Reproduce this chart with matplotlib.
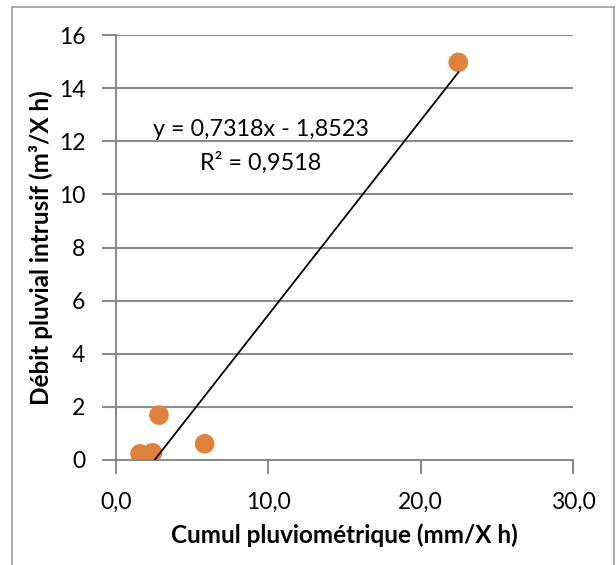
import numpy as np
import matplotlib.pyplot as plt
from matplotlib.patches import Rectangle

# --- DATA ---
cumul = [1.58, 2.39, 2.82, 5.82, 22.47]      # mm / X h
debit = [0.23, 0.27, 1.69, 0.61, 14.97]      # m3 / X h
slope = 0.7318
intercept = -1.8523
r2 = 0.9518
x_ticks = [0, 10, 20, 30]
x_tick_labels = ["0,0", "10,0", "20,0", "30,0"]
y_ticks = list(range(0, 17, 2))

plt.rcParams['font.family'] = ['Lato', 'DejaVu Sans']

W, H = 616, 565
fig = plt.figure(figsize=(W / 100, H / 100), dpi=100)
ax = fig.add_axes([116 / W, 1 - 460 / H, (573 - 116) / W, (460 - 35) / H])

grid_col = '#8c8c8c'

# trendline (clipped at y=0 like Excel does)
xl = np.array([min(cumul), max(cumul)])
ax.plot(xl, slope * xl + intercept, color='black', linewidth=1.3, zorder=3)
ax.scatter(cumul, debit, s=200, color='#df833c', edgecolors='none', zorder=2)

ax.set_xlim(0, 30)
ax.set_ylim(0, 16)
ax.set_xticks(x_ticks)
ax.set_xticklabels(x_tick_labels)
ax.set_yticks(y_ticks)
ax.grid(True, axis='y', color=grid_col, linewidth=1.5)
ax.set_axisbelow(True)
for side in ['top', 'right']:
    ax.spines[side].set_visible(False)
for side in ['left', 'bottom']:
    ax.spines[side].set_color(grid_col)
    ax.spines[side].set_linewidth(1.5)
ax.tick_params(axis='both', colors=grid_col, labelcolor='black', labelsize=16.5,
               length=10, width=1.5)
ax.tick_params(axis='x', pad=13)
ax.tick_params(axis='y', pad=12)

eq = "y = 0,7318x - 1,8523"
r2_txt = "R\u00b2 = " + f"{r2:.4f}".replace('.', ',')
fig.text(261 / W, 1 - 130 / H, eq, fontsize=16.8, ha='center', va='center')
fig.text(261 / W, 1 - 163 / H, r2_txt, fontsize=16.8, ha='center', va='center')

fig.text(344 / W, 1 - 535 / H, "Cumul pluviométrique (mm/X h)", fontsize=17.5,
         fontweight='bold', ha='center', va='center')
fig.text(41 / W, 1 - 248 / H, "Débit pluvial intrusif (m\u00b3/X h)", fontsize=17.5,
         fontweight='bold', ha='center', va='center', rotation=90)

fig.patches.append(Rectangle((12 / W, -0.05), (614 - 12) / W, 1.05 - 7 / H,
                             transform=fig.transFigure, fill=False,
                             edgecolor='#a6a6a6', linewidth=1.3))

fig.savefig('out.png', dpi=100)
